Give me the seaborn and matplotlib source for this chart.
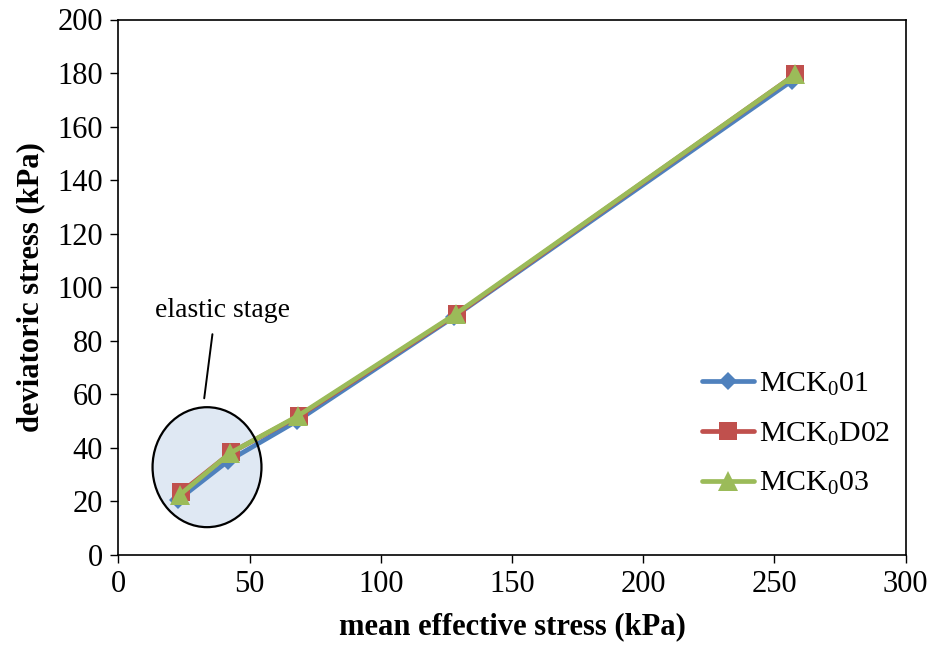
import matplotlib
matplotlib.use("Agg")
import matplotlib.pyplot as plt
from matplotlib.patches import Ellipse
import seaborn as sns
import pandas as pd

# Stress paths of the three K0-consolidated specimens
series_names = ["MCK$_0$01", "MCK$_0$D02", "MCK$_0$03"]
p_mck01 = [22.7, 41.7, 68.0, 128.0, 256.5]
q_mck01 = [20.5, 35.0, 50.0, 89.0, 177.0]
p_mck02 = [24.0, 43.0, 69.0, 129.0, 258.0]
q_mck02 = [23.5, 38.3, 52.0, 90.0, 179.5]
p_mck03 = [23.5, 42.5, 68.5, 128.5, 258.0]
q_mck03 = [22.5, 38.0, 52.0, 90.0, 179.5]

x_ticks = [0, 50, 100, 150, 200, 250, 300]
y_ticks = [0, 20, 40, 60, 80, 100, 120, 140, 160, 180, 200]

sns.set_theme(style="white")
plt.rcParams["font.family"] = ["Liberation Serif", "DejaVu Serif"]
plt.rcParams["mathtext.fontset"] = "custom"
plt.rcParams["mathtext.rm"] = "Liberation Serif"
plt.rcParams["mathtext.it"] = "Liberation Serif:italic"
plt.rcParams["mathtext.bf"] = "Liberation Serif:bold"
plt.rcParams["text.color"] = "black"
plt.rcParams["axes.labelcolor"] = "black"

fig = plt.figure(figsize=(9.31, 6.48), dpi=100)
ax = fig.add_axes([118.3 / 931, 1 - 555 / 648, (905.7 - 118.3) / 931, (555 - 19.5) / 648])

colors = ["#4F81BD", "#C0504D", "#9BBB59"]
markers = ["D", "s", "^"]
msizes = [9, 13, 14]
data = [(p_mck01, q_mck01), (p_mck02, q_mck02), (p_mck03, q_mck03)]

for name, (px, qy), c, m, ms in zip(series_names, data, colors, markers, msizes):
    df = pd.DataFrame({"p": px, "q": qy})
    sns.lineplot(data=df, x="p", y="q", ax=ax, color=c, linewidth=3.4,
                 marker=m, markersize=ms, markeredgewidth=0, label=name,
                 sort=False, zorder=3)

# Highlight of the elastic stage
ell_fill = Ellipse((33.8, 32.8), 41.5, 44.8, facecolor="#DCE6F2", edgecolor="none",
                   alpha=0.9, zorder=1)
ell_edge = Ellipse((33.8, 32.8), 41.5, 44.8, facecolor="none", edgecolor="black",
                   linewidth=1.6, zorder=4)
ax.add_patch(ell_fill)
ax.add_patch(ell_edge)
ax.annotate("", xy=(32.6, 57.5), xytext=(36.0, 83.5),
            arrowprops=dict(arrowstyle="-", color="black", lw=1.4))
ax.text(39.8, 91.5, "elastic stage", ha="center", va="center", fontsize=20,
        color="black")

ax.set_xlim(0, 300)
ax.set_ylim(0, 200)
ax.set_xticks(x_ticks)
ax.set_yticks(y_ticks)
ax.tick_params(axis="both", which="major", direction="out", length=6, width=1,
               labelsize=22, color="black", labelcolor="black",
               bottom=True, left=True, top=False, right=False, pad=5)
for s in ax.spines.values():
    s.set_color("black")
    s.set_linewidth(1.2)

ax.set_xlabel("mean effective stress (kPa)", fontsize=22, fontweight="bold",
              labelpad=9, color="black")
ax.set_ylabel("deviatoric stress (kPa)", fontsize=22, fontweight="bold",
              labelpad=9, color="black")

leg = ax.legend(loc="center left", bbox_to_anchor=(0.707, 0.226), frameon=False,
                fontsize=21.5, handlelength=1.75, handletextpad=0.15, labelspacing=0.75)
for t in leg.get_texts():
    t.set_color("black")

fig.savefig("out.png", dpi=100)
